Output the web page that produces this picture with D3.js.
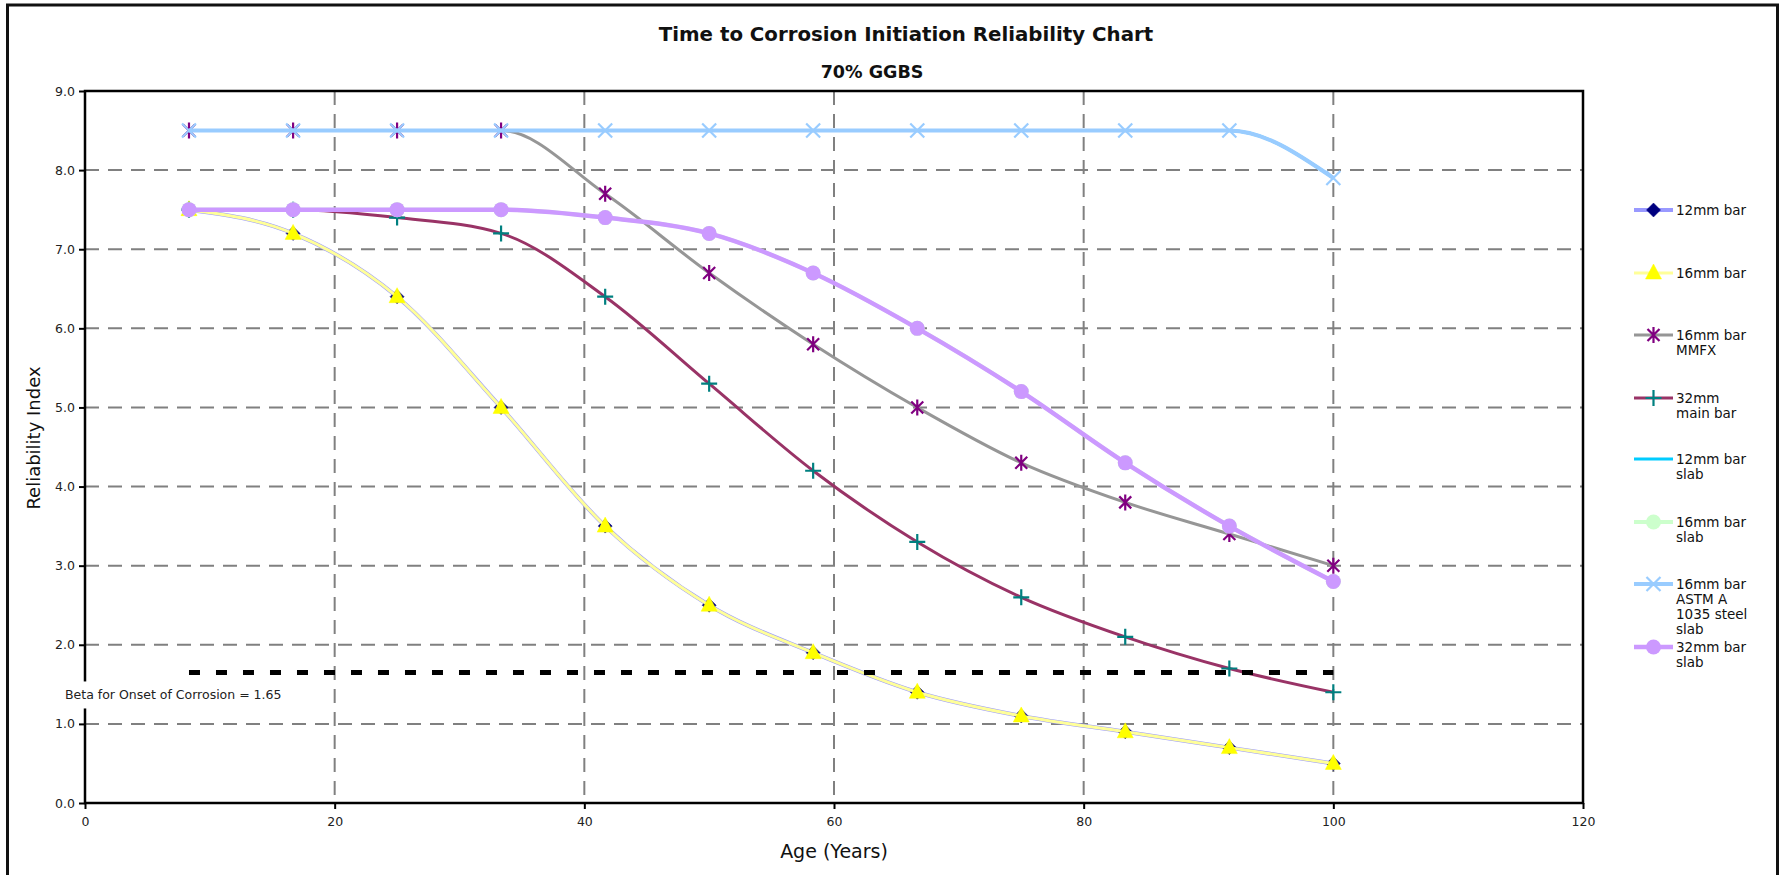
<!DOCTYPE html>
<html>
<head>
<meta charset="utf-8">
<script src="https://cdn.jsdelivr.net/npm/d3@7/dist/d3.min.js"></script>
<style>
  body { margin: 0; background: #fff; }
  svg { display: block; font-family: "DejaVu Sans", "Liberation Sans", sans-serif; }
</style>
</head>
<body>
<svg id="chart" width="1783" height="875"></svg>
<script>
// ages (years) at which the reliability index was computed
const ages = [8.33, 16.67, 25, 33.33, 41.67, 50, 58.33, 66.67, 75, 83.33, 91.67, 100]

// reliability index per series
const bar12      = [7.5, 7.2, 6.4, 5.0, 3.5, 2.5, 1.9, 1.4, 1.1, 0.9, 0.7, 0.5]
const bar16      = [7.5, 7.2, 6.4, 5.0, 3.5, 2.5, 1.9, 1.4, 1.1, 0.9, 0.7, 0.5]
const bar16MMFX  = [8.5, 8.5, 8.5, 8.5, 7.7, 6.7, 5.8, 5.0, 4.3, 3.8, 3.4, 3.0]
const bar32Main  = [7.5, 7.5, 7.4, 7.2, 6.4, 5.3, 4.2, 3.3, 2.6, 2.1, 1.7, 1.4]
const bar12Slab  = [8.5, 8.5, 8.5, 8.5, 8.5, 8.5, 8.5, 8.5, 8.5, 8.5, 8.5, 7.9]
const bar16Slab  = [7.5, 7.5, 7.5, 7.5, 7.4, 7.2, 6.7, 6.0, 5.2, 4.3, 3.5, 2.8]
const bar16Astm  = [8.5, 8.5, 8.5, 8.5, 8.5, 8.5, 8.5, 8.5, 8.5, 8.5, 8.5, 7.9]
const bar32Slab  = [7.5, 7.5, 7.5, 7.5, 7.4, 7.2, 6.7, 6.0, 5.2, 4.3, 3.5, 2.8]

const seriesNames = [
    ['12mm bar'],
    ['16mm bar'],
    ['16mm bar', 'MMFX'],
    ['32mm', 'main bar'],
    ['12mm bar', 'slab'],
    ['16mm bar', 'slab'],
    ['16mm bar', 'ASTM A', '1035 steel', 'slab'],
    ['32mm bar', 'slab']
]
const seriesValues = [bar12, bar16, bar16MMFX, bar32Main, bar12Slab, bar16Slab, bar16Astm, bar32Slab]

const threshold = 1.65
const thresholdLabel = 'Beta for Onset of Corrosion = 1.65'
const xTicks = [0, 20, 40, 60, 80, 100, 120]
const yTicks = [0, 1, 2, 3, 4, 5, 6, 7, 8, 9]

const title = 'Time to Corrosion Initiation Reliability Chart'
const subtitle = '70% GGBS'

// styles, one per series
const styles = [
    { line: '#9999ff', width: 4,   marker: 'diamond',  fill: '#000080' },
    { line: '#ffff99', width: 3,   marker: 'triangle', fill: '#ffff00' },
    { line: '#969696', width: 3,   marker: 'asterisk', fill: '#800080' },
    { line: '#993366', width: 3,   marker: 'plus',     fill: '#008080' },
    { line: '#00ccff', width: 3,   marker: 'none',     fill: 'none' },
    { line: '#ccffcc', width: 4,   marker: 'circle',   fill: '#ccffcc' },
    { line: '#99ccff', width: 4,   marker: 'times',    fill: '#99ccff' },
    { line: '#cc99ff', width: 4.5, marker: 'circle',   fill: '#cc99ff' }
]

const margin = { left: 85, right: 200, top: 91, bottom: 72 }
const W = 1783, H = 875

const svg = d3.select('#chart')

// outer frame
svg.append('rect')
    .attr('x', 7.5).attr('y', 5)
    .attr('width', 1770).attr('height', 900)
    .attr('fill', 'none')
    .attr('stroke', '#111')
    .attr('stroke-width', 3)

svg.append('text')
    .attr('x', 906).attr('y', 41)
    .attr('text-anchor', 'middle')
    .attr('font-size', 19.8)
    .attr('font-weight', 'bold')
    .attr('fill', '#111')
    .text(title)

svg.append('text')
    .attr('x', 872).attr('y', 78)
    .attr('text-anchor', 'middle')
    .attr('font-size', 17.5)
    .attr('font-weight', 'bold')
    .attr('fill', '#111')
    .text(subtitle)

const x = d3.scaleLinear().domain([0, 120]).range([margin.left, W - margin.right])
const y = d3.scaleLinear().domain([0, 9]).range([H - margin.bottom, margin.top])

// grid
const grid = svg.append('g').attr('class', 'grid')
grid.selectAll('.vgrid')
    .data(xTicks.filter(d => d > 0 && d < 120))
    .join('line')
    .attr('x1', d => x(d)).attr('x2', d => x(d))
    .attr('y1', y(9)).attr('y2', y(0))
    .attr('stroke', '#808080')
    .attr('stroke-width', 2)
    .attr('stroke-dasharray', '14,9')

grid.selectAll('.hgrid')
    .data(yTicks.filter(d => d > 0 && d < 9))
    .join('line')
    .attr('x1', x(0)).attr('x2', x(120))
    .attr('y1', d => y(d)).attr('y2', d => y(d))
    .attr('stroke', '#808080')
    .attr('stroke-width', 2)
    .attr('stroke-dasharray', '14,9')

// axes
const xAxis = svg.append('g')
    .attr('transform', 'translate(0,' + y(0) + ')')
    .call(d3.axisBottom(x).tickValues(xTicks).tickSize(6).tickPadding(8).tickFormat(d3.format('d')))
const yAxis = svg.append('g')
    .attr('transform', 'translate(' + x(0) + ',0)')
    .call(d3.axisLeft(y).tickValues(yTicks).tickSize(6).tickPadding(4).tickFormat(d3.format('.1f')))

;[xAxis, yAxis].forEach(function (a) {
    a.select('.domain').remove()
    a.selectAll('line').attr('stroke', '#000').attr('stroke-width', 2)
    a.selectAll('text').attr('font-family', '"DejaVu Sans", sans-serif').attr('font-size', 12.5).attr('fill', '#222')
})

// plot frame
svg.append('rect')
    .attr('x', x(0)).attr('y', y(9))
    .attr('width', x(120) - x(0)).attr('height', y(0) - y(9))
    .attr('fill', 'none')
    .attr('stroke', '#000')
    .attr('stroke-width', 2.5)

svg.append('text')
    .attr('x', (x(0) + x(120)) / 2).attr('y', 858)
    .attr('text-anchor', 'middle')
    .attr('font-size', 19)
    .attr('fill', '#111')
    .text('Age (Years)')

svg.append('text')
    .attr('transform', 'translate(40,438) rotate(-90)')
    .attr('text-anchor', 'middle')
    .attr('font-size', 18)
    .attr('fill', '#111')
    .text('Reliability Index')

// marker shapes
function markerPath(type) {
    switch (type) {
        case 'diamond': return 'M0,-7L7,0L0,7L-7,0Z'
        case 'triangle': return 'M0,-9L8,6L-8,6Z'
        case 'asterisk': return 'M-6,-6L6,6M-6,6L6,-6M0,-8L0,8'
        case 'plus': return 'M-8,0L8,0M0,-8L0,8'
        case 'times': return 'M-7,-7L7,7M-7,7L7,-7'
        default: return ''
    }
}

function drawMarker(g, st, cx, cy) {
    if (st.marker === 'none') return
    if (st.marker === 'circle') {
        g.append('circle').attr('cx', cx).attr('cy', cy).attr('r', 7.5).attr('fill', st.fill)
        return
    }
    const filled = st.marker === 'diamond' || st.marker === 'triangle'
    g.append('path')
        .attr('transform', 'translate(' + cx + ',' + cy + ')')
        .attr('d', markerPath(st.marker))
        .attr('fill', filled ? st.fill : 'none')
        .attr('stroke', st.fill)
        .attr('stroke-width', filled ? 0.5 : 2.2)
}

// series
const line = d3.line()
    .x(d => x(d[0]))
    .y(d => y(d[1]))
    .curve(d3.curveMonotoneX)

const seriesG = svg.append('g')
seriesValues.forEach(function (vals, i) {
    const st = styles[i]
    const pts = ages.map((a, j) => [a, vals[j]])
    const g = seriesG.append('g')
    g.append('path')
        .datum(pts)
        .attr('d', line)
        .attr('fill', 'none')
        .attr('stroke', st.line)
        .attr('stroke-width', st.width)
        .attr('stroke-linejoin', 'round')
    pts.forEach(p => drawMarker(g, st, x(p[0]), y(p[1])))
})

// threshold line + label
svg.append('line')
    .attr('x1', x(ages[0])).attr('x2', x(ages[ages.length - 1]))
    .attr('y1', y(threshold)).attr('y2', y(threshold))
    .attr('stroke', '#000')
    .attr('stroke-width', 5)
    .attr('stroke-dasharray', '11,16')

const lab = svg.append('g')
const labBg = lab.append('rect').attr('fill', '#fff')
const labText = lab.append('text')
    .attr('x', 65).attr('y', y(threshold) + 27)
    .attr('font-size', 12.5)
    .attr('fill', '#222')
    .text(thresholdLabel)
const bb = labText.node().getBBox()
labBg.attr('x', bb.x - 4).attr('y', bb.y - 6).attr('width', bb.width + 8).attr('height', bb.height + 12)

// legend
const legend = svg.append('g').attr('transform', 'translate(1634,0)')
const legendY = [210, 273, 335, 398, 459, 522, 584, 647]
seriesNames.forEach(function (name, i) {
    const st = styles[i]
    const g = legend.append('g').attr('transform', 'translate(0,' + legendY[i] + ')')
    g.append('line')
        .attr('x1', 0).attr('x2', 39)
        .attr('stroke', st.line)
        .attr('stroke-width', st.width)
    drawMarker(g, st, 19.5, 0)
    const t = g.append('text')
        .attr('x', 42).attr('y', 0)
        .attr('font-size', 13.5)
        .attr('fill', '#111')
    name.forEach(function (s, k) {
        t.append('tspan').attr('x', 42).attr('dy', k === 0 ? '0.35em' : '15px').text(s)
    })
})
</script>
</body>
</html>
